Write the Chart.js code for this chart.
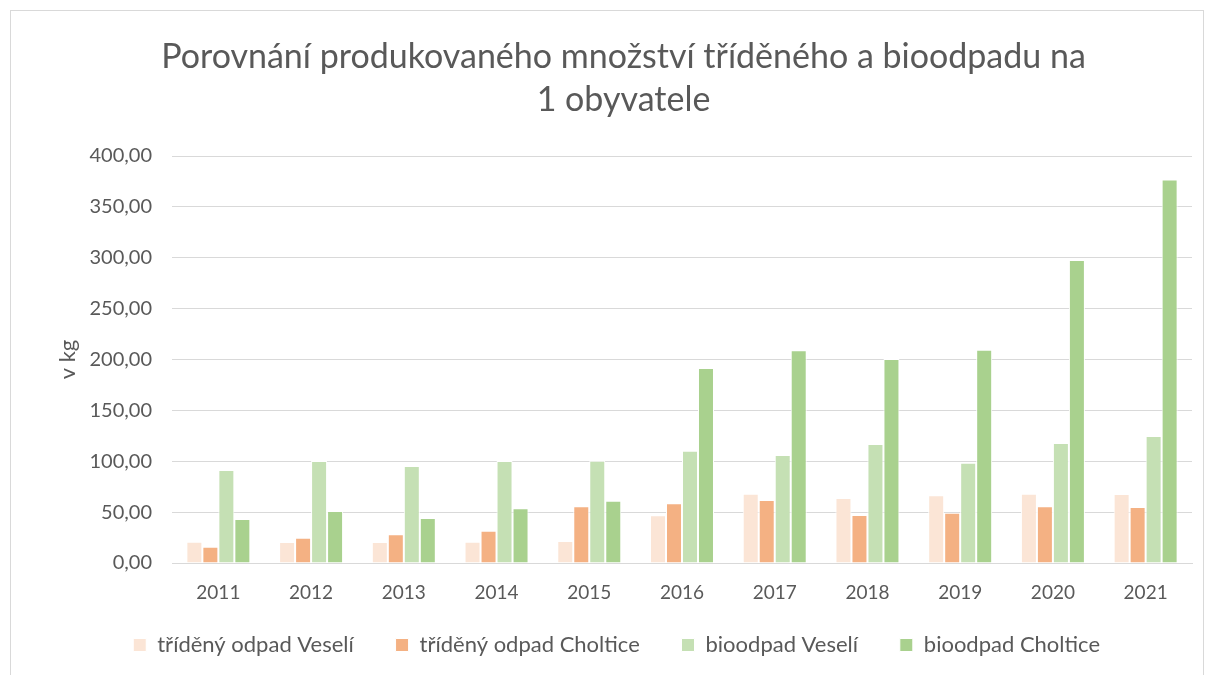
<!DOCTYPE html>
<html>
<head>
<meta charset="utf-8">
<script src="https://cdn.jsdelivr.net/npm/chart.js@4"></script>
<style>
    html, body { margin: 0; padding: 0; background: #fff; }
    #wrap { position: relative; width: 1209px; height: 675px; overflow: hidden; }
    #frame { position: absolute; left: 10px; top: 10px; width: 1194px; height: 700px; border: 1px solid #d9d9d9; box-sizing: border-box; }
    canvas { position: absolute; left: 0; top: 0; }
</style>
</head>
<body>
<div id="wrap">
    <div id="frame"></div>
    <canvas id="chart" width="1209" height="675"></canvas>
</div>
<script>
const years = ['2011', '2012', '2013', '2014', '2015', '2016', '2017', '2018', '2019', '2020', '2021'];
const tridenyVeseli = [21, 20.6, 20.6, 21, 21.6, 46.9, 68.1, 63.9, 66.5, 68.1, 67.8];
const tridenyCholtice = [16, 24.9, 28.2, 31.8, 55.7, 58.7, 61.9, 47.2, 49.4, 55.7, 55];
const bioVeseli = [91.4, 100.2, 95.3, 100.2, 100.5, 110.4, 106.1, 117, 98.6, 117.9, 124.8];
const bioCholtice = [43.2, 51, 44.2, 53.7, 61.2, 191.6, 209, 200.5, 209.6, 297.8, 377];
const seriesNames = ['tříděný odpad Veselí', 'tříděný odpad Choltice', 'bioodpad Veselí', 'bioodpad Choltice'];
const yTicks = [0, 50, 100, 150, 200, 250, 300, 350, 400];

const colors = ['#FBE5D6', '#F4B183', '#C5E0B4', '#A9D18E'];
const fontFamily = 'Lato, "Noto Sans", sans-serif';
const textColor = '#595959';

function ds(label, data, color) {
    return {
        label: label,
        data: data,
        backgroundColor: color,
        borderColor: '#ffffff',
        borderWidth: 1,
        categoryPercentage: 0.69,
        barPercentage: 1.0
    };
}

const ctx = document.getElementById('chart').getContext('2d');
new Chart(ctx, {
    type: 'bar',
    data: {
        labels: years,
        datasets: [
            ds(seriesNames[0], tridenyVeseli, colors[0]),
            ds(seriesNames[1], tridenyCholtice, colors[1]),
            ds(seriesNames[2], bioVeseli, colors[2]),
            ds(seriesNames[3], bioCholtice, colors[3])
        ]
    },
    options: {
        responsive: false,
        animation: false,
        layout: {
            padding: { left: 55, right: 17, top: 10, bottom: 9 }
        },
        plugins: {
            title: {
                display: true,
                text: ['Porovnání produkovaného množství tříděného a bioodpadu na', '1 obyvatele'],
                color: textColor,
                font: { family: fontFamily, size: 34, weight: 'normal', lineHeight: 1.25 },
                padding: { top: 26, bottom: 35 }
            },
            legend: {
                position: 'bottom',
                labels: {
                    color: textColor,
                    font: { family: fontFamily, size: 22 },
                    boxWidth: 13,
                    boxHeight: 13,
                    padding: 28,
                    // a little trailing space widens the gap between entries, as in the original
                    generateLabels: function (chart) {
                        const items = Chart.defaults.plugins.legend.labels.generateLabels(chart);
                        items.forEach(it => { it.text = it.text + '\u2002\u2009'; });
                        return items;
                    }
                }
            },
            tooltip: { enabled: false }
        },
        scales: {
            x: {
                grid: { display: false },
                border: { color: '#d9d9d9' },
                ticks: {
                    color: textColor,
                    font: { family: fontFamily, size: 19 },
                    padding: 10
                },
                afterFit: function (scale) { scale.height = 43; }
            },
            y: {
                min: 0,
                max: 400,
                afterBuildTicks: function (scale) {
                    scale.ticks = yTicks.map(v => ({ value: v }));
                },
                grid: { color: '#d9d9d9', lineWidth: 1, drawTicks: false },
                border: { display: false },
                ticks: {
                    color: textColor,
                    font: { family: fontFamily, size: 20 },
                    padding: 20,
                    callback: function (v) { return Number(v).toFixed(2).replace('.', ','); }
                },
                title: {
                    display: true,
                    text: 'v kg',
                    color: textColor,
                    font: { family: fontFamily, size: 22 },
                    padding: 0
                },
                afterFit: function (scale) { scale.width = 117; }
            }
        }
    }
});
</script>
</body>
</html>
